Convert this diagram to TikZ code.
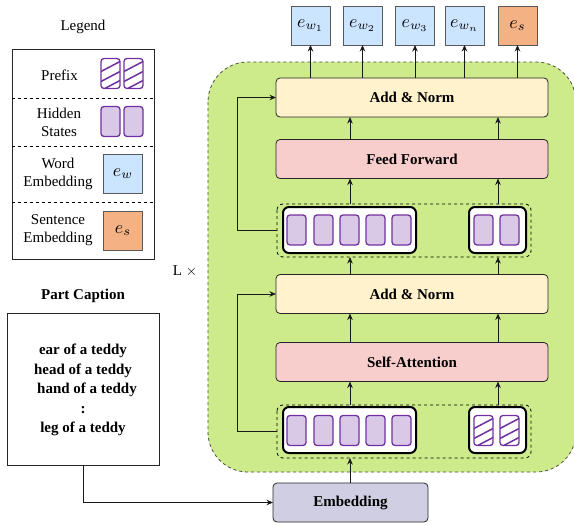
\documentclass[tikz,border=0pt]{standalone}
\usepackage{fontspec}
\setmainfont{Liberation Serif}
\usetikzlibrary{arrows.meta}
\definecolor{pstroke}{HTML}{7030A0}
\definecolor{pfill}{HTML}{D9C8E6}
\definecolor{greenbg}{HTML}{CDEB8B}
\definecolor{anfill}{HTML}{FFF2CC}
\definecolor{pinkfill}{HTML}{F8CECC}
\definecolor{bluefill}{HTML}{CCE5FF}
\definecolor{orangefill}{HTML}{F4B183}
\definecolor{embfill}{HTML}{D0CEE2}
\newcommand{\embmath}[1]{{\fontsize{10}{12}\selectfont\scalebox{1.8}{$#1$}}}
\begin{document}
\begin{tikzpicture}[x=1pt,y=-1pt,
  every node/.style={font=\fontsize{15}{18}\selectfont, inner sep=0pt, outer sep=0pt},
  block/.style={draw=black!85, rounded corners=4pt, minimum width=272pt, minimum height=39pt, line width=0.8pt, font=\fontsize{15}{18}\selectfont\bfseries},
  cell/.style={draw=pstroke, fill=pfill, rounded corners=3pt, minimum width=19pt, minimum height=30pt, line width=1.3pt},
  pcell/.style={draw=pstroke, fill=white, rounded corners=3pt, minimum width=19pt, minimum height=30pt, line width=1.3pt,
    path picture={
      \draw[pstroke, line width=1.5pt]
        ([yshift=-13pt]path picture bounding box.north west) -- ([yshift=-3pt]path picture bounding box.north east)
        ([yshift=-23pt]path picture bounding box.north west) -- ([yshift=-13pt]path picture bounding box.north east)
        ([yshift=-32pt]path picture bounding box.north west) -- ([yshift=-22pt]path picture bounding box.north east);}},
  inbox/.style={draw=black, fill=white, line width=2pt, rounded corners=6pt},
  group/.style={draw=black, dashed, rounded corners=6pt, line width=0.8pt},
  outbox/.style={draw=black!65, fill=bluefill, minimum width=39pt, minimum height=39pt, line width=0.8pt},
  arr/.style={-{Stealth[length=6.5pt,width=5.5pt]}, line width=0.8pt, draw=black!90}
]
\useasboundingbox (0,0) rectangle (574,525);

% ---------- Legend ----------
\node (legt) at (83,27) {Legend};
\draw[line width=0.8pt, black!85] (12,49) rectangle (154,259);
\draw[dashed, line width=0.8pt] (12,98) -- (154,98) (12,146) -- (154,146) (12,202) -- (154,202);
\node (lprefix) at (59.5,75) {Prefix};
\node[pcell] (lp1) at (110.5,73.5) {};
\node[pcell] (lp2) at (133.5,73.5) {};
\node[align=center] (lhidden) at (59,122) {Hidden\\States};
\node[cell] (lh1) at (110.5,121.5) {};
\node[cell] (lh2) at (133.5,121.5) {};
\node[align=center] (lword) at (58,174) {Word\\Embedding};
\node[outbox] (lwbox) at (123,173.5) {\embmath{e_w}};
\node[align=center] (lsent) at (58,230) {Sentence\\Embedding};
\node[outbox, fill=orangefill] (lsbox) at (123,230.5) {\embmath{e_s}};

% ---------- Part caption ----------
\node[font=\fontsize{15}{18}\selectfont\bfseries] (pct) at (83,296) {Part Caption};
\node[draw=black!85, line width=0.8pt, minimum width=152pt, minimum height=152pt] (pcbox) at (83,389) {};
\node[align=center, font=\fontsize{15}{19.5}\selectfont\bfseries] (pctext) at (83,390) {ear of a teddy\\head of a teddy\\\hspace{8pt}hand of a teddy\\:\\leg of a teddy};

% ---------- Transformer ----------
\draw[greenbg, fill=greenbg, rounded corners=40pt] (208,62) rectangle (576,472);
\draw[black!70, dashed, line width=0.8pt, rounded corners=40pt] (208,62) rectangle (576,472);
\node (lx) at (185,271) {L $\times$};

\node[block, fill=anfill] (an1) at (412,97.5) {Add \& Norm};
\node[block, fill=pinkfill] (ff) at (412,159) {Feed Forward};
\node[block, fill=anfill] (an2) at (412,294) {Add \& Norm};
\node[block, fill=pinkfill] (sa) at (412,362) {Self-Attention};
\node[block, fill=embfill, minimum width=155pt] (emb) at (350.5,502.5) {Embedding};

% group 1 (hidden states)
\draw[group] (277,204) rectangle (531,257);
\node[minimum width=254pt, minimum height=53pt] (g1) at (404,230.5) {};
\draw[inbox] (283,207) rectangle (416,253);
\draw[inbox] (469,207) rectangle (526,253);
\foreach \i/\x in {1/296.5,2/323.5,3/349.5,4/375.5,5/401.5} \node[cell] (g1c\i) at (\x,230) {};
\node[cell] (g1s1) at (483.5,230) {};
\node[cell] (g1s2) at (509.5,230) {};

% group 2 (hidden states + prefix)
\draw[group] (277,405) rectangle (531,458);
\node[minimum width=254pt, minimum height=53pt] (g2) at (404,431.5) {};
\draw[inbox] (283,407) rectangle (416,453);
\draw[inbox] (469,407) rectangle (526,453);
\foreach \i/\x in {1/296.5,2/323.5,3/349.5,4/375.5,5/401.5} \node[cell] (g2c\i) at (\x,430.5) {};
\node[pcell] (g2s1) at (483.5,430.5) {};
\node[pcell] (g2s2) at (509.5,430.5) {};

% outputs
\node[outbox] (o1) at (310.5,25.5) {\embmath{e_{w_1}}};
\node[outbox] (o2) at (362.5,25.5) {\embmath{e_{w_2}}};
\node[outbox] (o3) at (415,25.5) {\embmath{e_{w_3}}};
\node[outbox] (o4) at (464.5,25.5) {\embmath{e_{w_n}}};
\node[outbox, fill=orangefill] (o5) at (517.5,25.5) {\embmath{e_s}};

% arrows to outputs
\foreach \o in {o1,o2,o3,o4,o5} \draw[arr] (an1.north -| \o.south) -- (\o.south);

% vertical flow
\foreach \xx in {350,498} {
  \draw[arr] (ff.north -| \xx,0) -- (an1.south -| \xx,0);
  \draw[arr] (g1.north -| \xx,0) -- (ff.south -| \xx,0);
  \draw[arr] (an2.north -| \xx,0) -- (g1.south -| \xx,0);
  \draw[arr] (sa.north -| \xx,0) -- (an2.south -| \xx,0);
  \draw[arr] (g2.north -| \xx,0) -- (sa.south -| \xx,0);
}
\draw[arr] (emb.north -| 350,0) -- (g2.south -| 350,0);

% residuals
\coordinate (r1) at (237,230.5);
\coordinate (r2) at (237,431.5);
\draw[arr] (g1.west) -- (r1) |- (an1.west);
\draw[arr] (g2.west) -- (r2) |- (an2.west);

% caption to embedding
\draw[arr] (pcbox.south) |- (emb.west);
\end{tikzpicture}
\end{document}
